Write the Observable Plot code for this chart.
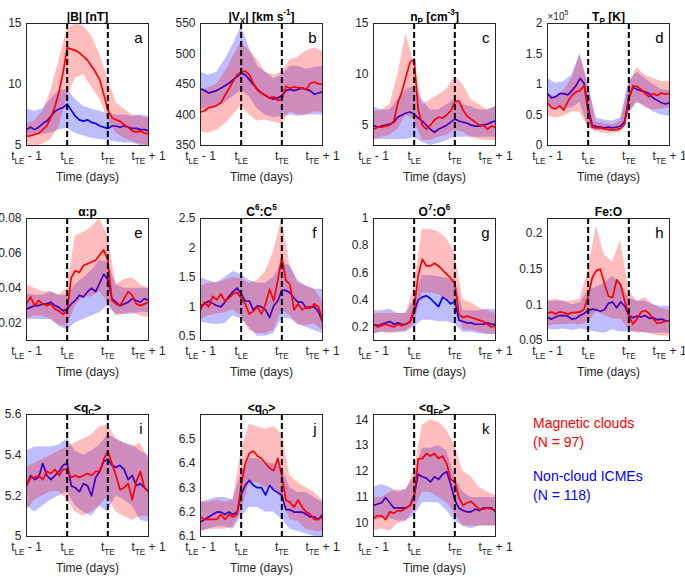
<!DOCTYPE html>
<html><head><meta charset="utf-8">
<script src="https://cdn.jsdelivr.net/npm/d3@7"></script>
<script src="https://cdn.jsdelivr.net/npm/@observablehq/plot@0.6"></script>
<style>
body{margin:0;background:#fff;}
#chart{position:relative;width:685px;height:577px;overflow:hidden;font-family:"Liberation Sans",Arial,Helvetica,sans-serif;background:#fff;}
#chart svg{position:absolute;}
.leg{position:absolute;left:533px;font-size:14px;line-height:19px;white-space:nowrap;}
</style></head><body><div id="chart"></div>
<script>
// x grid (0 = tLE-1, 1 = tLE, 2 = tTE, 3 = tTE+1)
const tLine = [0,0.1,0.2,0.3,0.4,0.5,0.6,0.7,0.8,0.9,1,1.1,1.2,1.3,1.4,1.5,1.6,1.7,1.8,1.9,2,2.1,2.2,2.3,2.4,2.5,2.6,2.7,2.8,2.9,3];
const tBand = [0,0.2,0.4,0.6,0.8,1,1.2,1.4,1.6,1.8,2,2.2,2.4,2.6,2.8,3];
const tickPos = [0,1,2,3];
const xTickLabels = ["t_{LE} - 1","t_{LE}","t_{TE}","t_{TE} + 1"];

const titles = ["|B| [nT]","|V_{X}| [km s^{-1}]","n_{P} [cm^{-3}]","T_{P} [K]","α:p","C^{6}:C^{5}","O^{7}:O^{6}","Fe:O","<q_{C}>","<q_{O}>","<q_{Fe}>"];
const letters = ["a","b","c","d","e","f","g","h","i","j","k"];
const yDomains = [[5,15],[350,550],[3,15],[0,2],[0.01,0.08],[0.43,2.5],[0.1,1],[0.05,0.221],[5,5.6],[6.1,6.6],[9.5,14.2]];
const yTicks = [[5,10,15],[350,400,450,500,550],[5,10,15],[0,0.5,1,1.5,2],[0.02,0.04,0.06,0.08],[0.5,1,1.5,2,2.5],[0.2,0.4,0.6,0.8,1],[0.05,0.1,0.15,0.2],[5,5.2,5.4,5.6],[6.1,6.2,6.3,6.4,6.5],[10,11,12,13,14]];

// a: |B|
const a_mc = [5.75,5.8,5.9,6.0,6.3,6.6,7.3,8.2,9.4,11.0,13.0,12.9,12.8,12.6,12.3,12.0,11.5,11.0,10.4,9.2,7.9,7.3,7.1,7.0,6.7,6.5,6.2,6.1,6.2,6.0,6.0];
const a_nc = [6.3,6.5,6.3,6.5,6.8,7.0,7.4,7.8,8.0,8.1,8.4,7.9,7.4,7.1,7.0,7.1,6.9,6.8,6.6,6.5,6.4,6.6,6.6,6.5,6.6,6.5,6.4,6.4,6.3,6.3,6.2];
const a_mcLo = [4.8,4.9,5.1,5.5,6.5,9.0,10.5,10.8,9.8,8.8,7.2,6.0,5.6,5.3,5.1,5.0];
const a_mcHi = [6.8,7.0,7.8,9.5,12.0,14.5,15.0,14.8,14.0,12.5,10.5,8.5,8.0,7.5,7.4,7.2];
const a_ncLo = [5.7,5.8,5.9,6.0,6.3,6.4,6.0,5.8,5.6,5.5,5.4,5.3,5.2,5.2,5.0,5.0];
const a_ncHi = [8.0,7.8,8.0,8.8,9.5,9.6,8.8,8.2,8.0,7.8,7.6,7.5,7.5,7.4,7.5,7.4];
// b: |Vx|
const b_mc = [405,407,412,413,416,420,432,443,455,466,470,472,466,452,441,436,432,428,430,424,425,447,444,446,445,444,442,452,454,451,450];
const b_nc = [443,440,436,438,440,444,448,452,458,463,468,466,458,450,442,436,432,428,426,428,432,440,442,440,442,444,442,440,434,436,438];
const b_mcLo = [372,370,375,385,400,415,400,390,392,388,385,405,400,400,405,405];
const b_mcHi = [440,445,450,470,495,520,505,490,470,465,470,490,495,505,510,505];
const b_ncLo = [410,410,412,420,430,440,430,410,400,395,398,400,398,400,400,400];
const b_ncHi = [470,465,470,490,515,545,510,480,470,460,465,480,480,475,478,480];
// c: np
const c_mc = [4.6,4.8,4.8,4.9,5.0,5.4,7.2,8.3,9.8,11.2,11.5,6.5,5.0,4.6,5.0,5.5,5.8,5.7,6.0,6.4,7.3,7.4,6.5,5.9,5.6,5.3,5.0,5.0,4.6,4.9,4.8];
const c_nc = [5.0,4.8,4.9,5.0,5.1,5.3,5.8,6.0,6.2,6.3,6.1,5.7,5.4,5.0,4.6,4.3,4.6,4.8,5.0,5.3,5.6,5.4,5.3,5.2,5.0,4.9,4.9,5.0,5.1,5.3,5.4];
const c_mcLo = [3.6,3.8,4.0,4.6,6.0,5.5,3.5,3.5,3.8,4.0,4.5,4.3,3.8,3.6,3.5,3.5];
const c_mcHi = [6.3,6.5,7.0,10.0,14.0,11.0,7.0,7.5,8.0,8.5,9.8,9.0,7.5,7.0,6.5,6.8];
const c_ncLo = [3.6,3.6,3.6,3.6,3.6,3.8,3.3,3.0,3.2,3.5,3.8,3.8,3.8,3.8,3.8,3.8];
const c_ncHi = [6.8,6.5,6.5,7.5,8.5,8.8,7.5,6.5,6.5,7.0,7.5,7.0,6.8,6.5,6.5,6.8];
// d: Tp (x 1e5)
const d_mc = [0.70,0.62,0.60,0.65,0.58,0.72,0.82,0.88,0.90,0.98,0.55,0.30,0.29,0.29,0.27,0.26,0.25,0.26,0.28,0.35,0.75,0.98,0.97,0.92,0.85,0.80,0.85,0.82,0.86,0.84,0.85];
const d_nc = [0.85,0.78,0.80,0.85,0.85,0.83,0.90,0.98,1.10,1.02,0.62,0.33,0.31,0.30,0.29,0.30,0.29,0.30,0.32,0.40,0.80,0.95,0.92,0.90,0.88,0.85,0.78,0.74,0.70,0.68,0.70];
const d_mcLo = [0.48,0.45,0.48,0.55,0.55,0.30,0.22,0.20,0.20,0.22,0.50,0.72,0.62,0.58,0.60,0.62];
const d_mcHi = [0.85,0.80,0.90,1.10,1.50,1.00,0.38,0.36,0.34,0.40,1.00,1.28,1.15,1.10,1.05,1.05];
const d_ncLo = [0.65,0.62,0.60,0.62,0.70,0.30,0.25,0.24,0.24,0.25,0.55,0.70,0.65,0.55,0.50,0.48];
const d_ncHi = [1.10,1.02,1.05,1.15,1.50,1.00,0.45,0.42,0.40,0.45,1.05,1.20,1.10,1.00,0.92,0.90];
// e: alpha:p
const e_mc = [0.031,0.035,0.030,0.033,0.031,0.030,0.031,0.028,0.027,0.025,0.027,0.046,0.050,0.049,0.053,0.054,0.055,0.056,0.059,0.062,0.056,0.033,0.031,0.030,0.034,0.038,0.036,0.031,0.030,0.031,0.032];
const e_nc = [0.028,0.029,0.030,0.030,0.031,0.031,0.032,0.030,0.029,0.027,0.028,0.031,0.033,0.036,0.035,0.038,0.040,0.038,0.043,0.048,0.045,0.034,0.032,0.030,0.031,0.032,0.034,0.033,0.032,0.034,0.033];
const e_mcLo = [0.022,0.024,0.024,0.022,0.019,0.018,0.030,0.035,0.035,0.038,0.032,0.024,0.025,0.026,0.024,0.023];
const e_mcHi = [0.042,0.040,0.038,0.038,0.036,0.040,0.070,0.072,0.075,0.080,0.070,0.042,0.045,0.046,0.042,0.040];
const e_ncLo = [0.022,0.022,0.022,0.022,0.018,0.016,0.020,0.022,0.024,0.026,0.030,0.025,0.025,0.025,0.026,0.026];
const e_ncHi = [0.037,0.036,0.036,0.038,0.036,0.036,0.042,0.046,0.050,0.056,0.055,0.042,0.040,0.040,0.040,0.040];
// f: C6:C5
const f_mc = [0.95,1.08,1.00,1.18,1.12,1.22,1.10,1.15,1.22,1.25,1.15,1.05,0.88,0.93,1.00,0.88,1.05,1.30,1.10,1.45,1.85,1.45,1.38,0.95,1.05,0.95,1.00,0.98,1.05,1.00,0.78];
const f_nc = [1.02,1.05,1.10,1.06,1.02,1.00,1.08,1.18,1.26,1.32,1.22,1.10,1.10,0.95,1.02,1.00,0.95,0.82,1.02,1.10,1.28,1.28,1.24,1.15,1.08,1.08,0.98,1.00,1.00,0.92,0.75];
const f_mcLo = [0.78,0.85,0.88,0.90,0.95,0.85,0.60,0.55,0.55,0.60,0.95,0.85,0.70,0.68,0.72,0.60];
const f_mcHi = [1.35,1.40,1.42,1.45,1.50,1.48,1.40,1.45,1.60,1.95,2.50,1.70,1.40,1.35,1.30,1.10];
const f_ncLo = [0.75,0.72,0.70,0.72,0.85,0.80,0.65,0.50,0.50,0.55,0.80,0.80,0.70,0.65,0.60,0.55];
const f_ncHi = [1.50,1.45,1.40,1.50,1.60,1.55,1.45,1.40,1.40,1.50,1.75,1.70,1.45,1.35,1.30,1.30];
// g: O7:O6
const g_mc = [0.22,0.20,0.21,0.22,0.21,0.20,0.22,0.21,0.22,0.24,0.34,0.58,0.70,0.65,0.65,0.67,0.65,0.62,0.59,0.56,0.52,0.29,0.27,0.28,0.27,0.26,0.25,0.24,0.22,0.20,0.21];
const g_nc = [0.22,0.21,0.22,0.23,0.24,0.22,0.23,0.22,0.22,0.24,0.31,0.40,0.42,0.43,0.41,0.38,0.35,0.42,0.40,0.37,0.39,0.25,0.24,0.23,0.23,0.22,0.22,0.22,0.23,0.22,0.22];
const g_mcLo = [0.15,0.16,0.15,0.16,0.17,0.22,0.45,0.45,0.44,0.40,0.38,0.18,0.18,0.16,0.15,0.14];
const g_mcHi = [0.30,0.30,0.30,0.30,0.30,0.50,0.92,0.92,0.90,0.85,0.75,0.40,0.38,0.34,0.32,0.30];
const g_ncLo = [0.15,0.16,0.16,0.16,0.16,0.20,0.25,0.25,0.24,0.24,0.22,0.16,0.16,0.15,0.14,0.15];
const g_ncHi = [0.32,0.32,0.33,0.30,0.30,0.40,0.58,0.58,0.57,0.56,0.55,0.32,0.32,0.32,0.33,0.33];
// h: Fe:O
const h_mc = [0.088,0.090,0.087,0.090,0.089,0.087,0.089,0.089,0.090,0.094,0.112,0.138,0.148,0.150,0.130,0.112,0.110,0.135,0.128,0.105,0.085,0.073,0.080,0.090,0.092,0.088,0.080,0.074,0.075,0.077,0.077];
const h_nc = [0.082,0.080,0.083,0.085,0.085,0.084,0.080,0.081,0.085,0.088,0.092,0.094,0.093,0.091,0.093,0.102,0.104,0.096,0.104,0.098,0.085,0.082,0.084,0.083,0.085,0.081,0.082,0.079,0.080,0.078,0.077];
const h_mcLo = [0.070,0.072,0.072,0.073,0.072,0.075,0.090,0.085,0.080,0.080,0.065,0.060,0.062,0.058,0.056,0.056];
const h_mcHi = [0.105,0.108,0.105,0.105,0.108,0.150,0.210,0.170,0.160,0.190,0.120,0.105,0.110,0.100,0.095,0.092];
const h_ncLo = [0.065,0.065,0.066,0.064,0.066,0.064,0.062,0.060,0.065,0.062,0.062,0.062,0.060,0.060,0.060,0.060];
const h_ncHi = [0.105,0.105,0.105,0.100,0.103,0.120,0.125,0.130,0.140,0.130,0.110,0.105,0.105,0.100,0.098,0.098];
// i: <qC>
const i_mc = [5.25,5.29,5.29,5.30,5.28,5.32,5.31,5.33,5.30,5.33,5.33,5.29,5.30,5.29,5.30,5.31,5.30,5.32,5.32,5.38,5.42,5.36,5.30,5.23,5.24,5.26,5.18,5.27,5.32,5.24,5.22];
const i_nc = [5.25,5.30,5.28,5.29,5.36,5.30,5.28,5.30,5.32,5.35,5.36,5.25,5.24,5.22,5.26,5.25,5.20,5.29,5.32,5.37,5.38,5.35,5.34,5.35,5.33,5.28,5.30,5.25,5.26,5.24,5.22];
const i_mcLo = [5.13,5.18,5.20,5.22,5.22,5.18,5.12,5.10,5.12,5.15,5.20,5.12,5.10,5.08,5.10,5.10];
const i_mcHi = [5.34,5.36,5.38,5.40,5.42,5.44,5.46,5.48,5.50,5.54,5.55,5.48,5.46,5.44,5.46,5.38];
const i_ncLo = [5.15,5.12,5.15,5.18,5.20,5.22,5.15,5.12,5.10,5.15,5.12,5.20,5.18,5.15,5.08,5.07];
const i_ncHi = [5.42,5.44,5.44,5.44,5.45,5.48,5.42,5.40,5.42,5.45,5.50,5.48,5.46,5.45,5.42,5.40];
// j: <qO>
const j_mc = [6.18,6.17,6.17,6.17,6.17,6.19,6.17,6.19,6.18,6.19,6.31,6.40,6.44,6.45,6.43,6.42,6.40,6.38,6.37,6.42,6.35,6.25,6.24,6.22,6.25,6.22,6.20,6.19,6.17,6.17,6.18];
const j_nc = [6.16,6.17,6.18,6.19,6.20,6.20,6.19,6.20,6.19,6.20,6.27,6.31,6.33,6.31,6.30,6.30,6.27,6.31,6.29,6.28,6.27,6.21,6.21,6.20,6.20,6.20,6.19,6.18,6.18,6.17,6.19];
const j_mcLo = [6.12,6.13,6.13,6.13,6.14,6.20,6.32,6.32,6.30,6.30,6.25,6.17,6.16,6.13,6.12,6.12];
const j_mcHi = [6.24,6.24,6.25,6.24,6.25,6.45,6.56,6.55,6.54,6.55,6.52,6.35,6.32,6.30,6.28,6.25];
const j_ncLo = [6.12,6.13,6.14,6.14,6.13,6.18,6.22,6.22,6.20,6.20,6.17,6.13,6.12,6.11,6.10,6.10];
const j_ncHi = [6.24,6.25,6.26,6.26,6.25,6.36,6.42,6.42,6.40,6.40,6.38,6.30,6.28,6.28,6.26,6.24];
// k: <qFe>
const k_mc = [10.2,10.3,10.3,10.15,10.45,10.4,10.5,10.5,10.6,10.7,11.0,12.5,12.5,12.7,12.6,12.7,12.5,12.6,12.3,11.7,11.6,11.0,10.7,10.8,10.85,10.7,10.55,10.55,10.6,10.55,10.5];
const k_nc = [10.7,10.75,10.8,11.0,10.8,10.6,10.6,10.6,10.6,10.7,11.1,11.9,11.8,11.75,11.6,11.8,11.7,11.9,12.0,11.5,10.9,10.6,10.5,10.45,10.45,10.55,10.5,10.6,10.6,10.6,10.45];
const k_mcLo = [9.7,9.8,9.7,10.0,10.1,10.5,11.2,11.2,11.0,10.8,10.4,9.9,9.9,9.9,9.9,9.9];
const k_mcHi = [11.0,11.0,11.2,11.3,11.3,12.0,13.8,14.0,13.9,13.6,13.0,12.0,11.8,11.4,11.2,11.1];
const k_ncLo = [10.1,10.2,10.2,10.1,10.1,10.3,10.8,10.8,10.8,10.5,10.1,9.9,9.8,9.9,9.9,9.9];
const k_ncHi = [11.4,11.5,11.4,11.2,11.3,11.8,12.9,12.9,13.0,12.8,11.8,11.2,11.0,11.0,11.0,11.0];

const legendLines = [["Magnetic clouds","#ff0000"],["(N = 97)","#ff0000"],["Non-cloud ICMEs","#0000ff"],["(N = 118)","#0000ff"]];

const series = [
  [a_mc,a_nc,a_mcLo,a_mcHi,a_ncLo,a_ncHi],
  [b_mc,b_nc,b_mcLo,b_mcHi,b_ncLo,b_ncHi],
  [c_mc,c_nc,c_mcLo,c_mcHi,c_ncLo,c_ncHi],
  [d_mc,d_nc,d_mcLo,d_mcHi,d_ncLo,d_ncHi],
  [e_mc,e_nc,e_mcLo,e_mcHi,e_ncLo,e_ncHi],
  [f_mc,f_nc,f_mcLo,f_mcHi,f_ncLo,f_ncHi],
  [g_mc,g_nc,g_mcLo,g_mcHi,g_ncLo,g_ncHi],
  [h_mc,h_nc,h_mcLo,h_mcHi,h_ncLo,h_ncHi],
  [i_mc,i_nc,i_mcLo,i_mcHi,i_ncLo,i_ncHi],
  [j_mc,j_nc,j_mcLo,j_mcHi,j_ncLo,j_ncHi],
  [k_mc,k_nc,k_mcLo,k_mcHi,k_ncLo,k_ncHi]
];

// ---- layout ----
const colLeft = [26,200,373,547], rowTop = [23,218,414];
const boxW = 122, boxH = 122;
const ML = 45, MR = 25, MT = 28, MB = 50;
const FONT = '"Liberation Sans", Arial, Helvetica, sans-serif';
const svgns = "http://www.w3.org/2000/svg";

function rich(el) {
  const s = el.textContent;
  if (!/[_^]\{/.test(s)) return;
  const fs = parseFloat(getComputedStyle(el).fontSize) || 12;
  el.textContent = "";
  const re = /([_^])\{([^}]*)\}/g;
  let last = 0, m, shift = 0;
  const add = (txt, dy, size) => {
    const ts = document.createElementNS(svgns, "tspan");
    ts.textContent = txt;
    if (dy) ts.setAttribute("dy", dy);
    if (size) ts.setAttribute("font-size", size);
    el.appendChild(ts);
  };
  while ((m = re.exec(s))) {
    if (m.index > last) { add(s.slice(last, m.index), -shift); shift = 0; }
    const d = m[1] === "_" ? fs * 0.3 : -fs * 0.42;
    add(m[2], d - shift, fs * 0.68);
    shift = d;
    last = re.lastIndex;
  }
  if (last < s.length) add(s.slice(last), -shift);
}

const chart = document.getElementById("chart");
const fmt = v => String(+v.toFixed(4));

series.forEach((sr, i) => {
  const [mc, nc, mcLo, mcHi, ncLo, ncHi] = sr;
  const line = arr => tLine.map((t, k) => ({t, v: arr[k]}));
  const band = (lo, hi) => tBand.map((t, k) => ({t, lo: lo[k], hi: hi[k]}));
  const marks = [
    Plot.areaY(band(ncLo, ncHi), {x: "t", y1: "lo", y2: "hi", fill: "#0000ff", fillOpacity: 0.26, clip: true}),
    Plot.lineY(line(nc), {x: "t", y: "v", stroke: "#0000ff", strokeWidth: 1.7, clip: true}),
    Plot.areaY(band(mcLo, mcHi), {x: "t", y1: "lo", y2: "hi", fill: "#ff0000", fillOpacity: 0.26, clip: true}),
    Plot.lineY(line(mc), {x: "t", y: "v", stroke: "#ff0000", strokeWidth: 1.7, clip: true}),
    Plot.ruleX(tickPos.slice(1, 3), {stroke: "#000", strokeWidth: 2, strokeDasharray: "6,3"}),
    Plot.frame({stroke: "#262626", strokeWidth: 1}),
    Plot.axisX({ticks: tickPos, tickFormat: d => xTickLabels[tickPos.indexOf(d)], tickSize: 0, tickPadding: 6, label: null, fill: "#262626"}),
    Plot.axisY({ticks: yTicks[i], tickFormat: fmt, tickSize: 0, tickPadding: 5, label: null, fill: "#262626"}),
    Plot.text([titles[i]], {text: d => d, frameAnchor: "top", lineAnchor: "bottom", dy: -3, fontWeight: "bold", fontSize: 12, fill: "#000"}),
    Plot.text([letters[i]], {text: d => d, frameAnchor: "top-right", textAnchor: "end", lineAnchor: "middle", dx: -6, dy: 15, fontSize: 15, fill: "#000"}),
    Plot.text(["Time (days)"], {text: d => d, frameAnchor: "bottom", lineAnchor: "top", dy: 27, fontSize: 12, fill: "#262626"})
  ];
  if (i === 3) marks.push(Plot.text(["×10^{5}"], {text: d => d, frameAnchor: "top-left", textAnchor: "start", lineAnchor: "bottom", dy: -4, fontSize: 10, fill: "#262626"}));
  const svg = Plot.plot({
    width: ML + boxW + MR, height: MT + boxH + MB,
    marginLeft: ML, marginRight: MR, marginTop: MT, marginBottom: MB,
    style: {background: "transparent", overflow: "visible", fontFamily: FONT, fontSize: "12px", color: "#262626"},
    x: {domain: [0, 3]},
    y: {domain: yDomains[i]},
    marks
  });
  const r = Math.floor(i / 4), c = i % 4;
  svg.style.left = (colLeft[c] - ML) + "px";
  svg.style.top = (rowTop[r] - MT) + "px";
  chart.appendChild(svg);
  d3.select(svg).selectAll("text").each(function() { rich(this); });
});

const legTops = [414, 433, 467, 486];
legendLines.forEach(([txt, col], k) => {
  const dv = document.createElement("div");
  dv.className = "leg";
  dv.style.top = legTops[k] + "px";
  dv.style.color = col;
  dv.textContent = txt;
  chart.appendChild(dv);
});
</script></body></html>
